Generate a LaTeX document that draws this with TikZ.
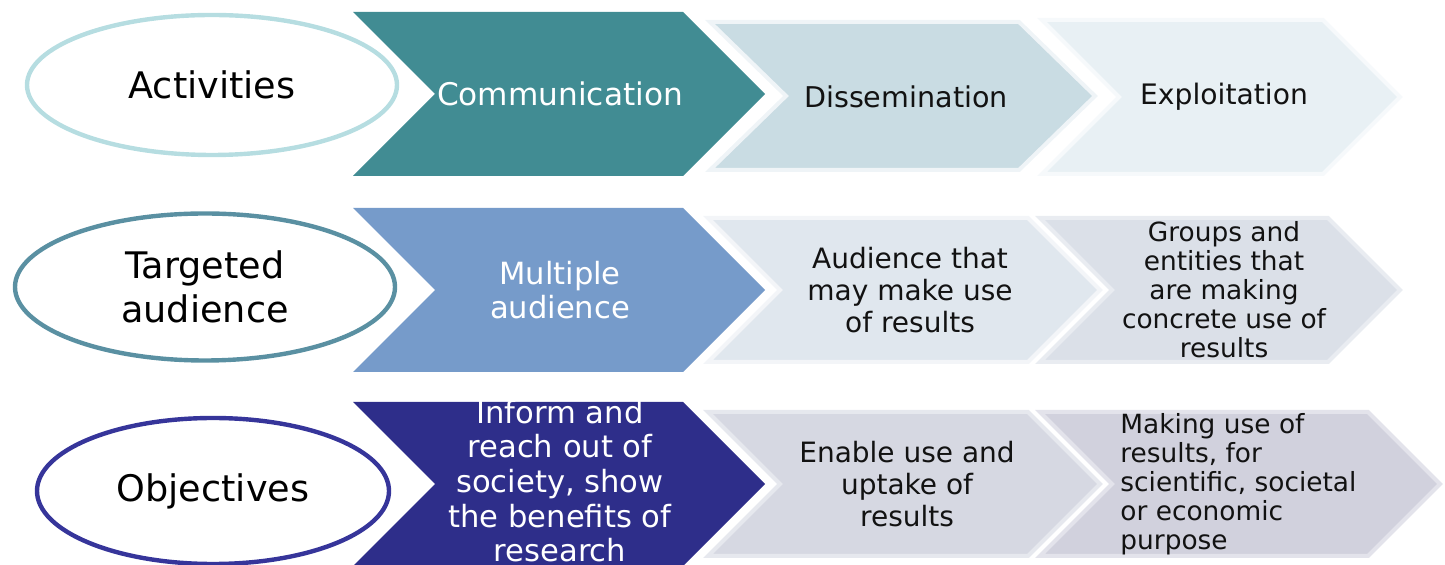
\documentclass[tikz,border=0pt]{standalone}
\usepackage{fontspec}
\setmainfont{DejaVu Sans}
\usetikzlibrary{shapes.geometric}
\definecolor{ovalA}{HTML}{B6DDE1}
\definecolor{ovalB}{HTML}{5A90A2}
\definecolor{ovalC}{HTML}{36359A}
\definecolor{chevAa}{HTML}{418C93}
\definecolor{chevAb}{HTML}{C9DCE3}
\definecolor{chevAc}{HTML}{E8F0F4}
\definecolor{chevBa}{HTML}{769BCA}
\definecolor{chevBb}{HTML}{E0E7EE}
\definecolor{chevBc}{HTML}{DBE0E8}
\definecolor{chevCa}{HTML}{2E2E8A}
\definecolor{chevCb}{HTML}{D6D8E2}
\definecolor{chevCc}{HTML}{D1D1DD}
% chevron: left x, top y, tip x, bottom y, depth, style
\newcommand{\chev}[6]{\path[#6] (#1,#2) -- ({#3-#5},#2) -- (#3,{(#2+#4)/2}) -- ({#3-#5},#4) -- (#1,#4) -- ({#1+#5},{(#2+#4)/2}) -- cycle;}
\newcommand{\fs}[2]{\fontsize{#1}{#2}\selectfont}

\begin{document}
\begin{tikzpicture}[x=0.5pt, y=-0.5pt,
    oval/.style={draw, ellipse, line width=2.2pt, inner sep=0pt, align=center, font=\fs{18.3}{22}},
    rim/.style={line width=2pt, line join=miter},
    lab/.style={align=center, inner sep=0pt, text=black!93}]
    \useasboundingbox (0,0) rectangle (1445,565);

    % First row
    \node[oval, draw=ovalA, minimum width=185pt, minimum height=70pt] (oval-1) at (212,85) {Activities};
    \chev{353}{12}{765}{176}{82}{fill=chevAa}
    \chev{710}{22}{1095}{170}{76}{rim, fill=chevAb, draw=chevAb!30!white}
    \chev{1042}{20}{1400}{174}{77}{rim, fill=chevAc, draw=chevAc!40!white}
    \node[lab, text=white, font=\fs{15.6}{17}] (chev-1-1) at (560,94) {Communication};
    \node[lab, font=\fs{14.3}{16}] (chev-1-2) at (906,97) {Dissemination};
    \node[lab, font=\fs{14.1}{16}] (chev-1-3) at (1224,97) {Exploitation};

    % Second row
    \node[oval, draw=ovalB, minimum width=190pt, minimum height=73.5pt] (oval-2) at (205,287) {Targeted\\audience};
    \chev{353}{208}{765}{372}{82}{fill=chevBa}
    \chev{708}{218}{1100}{362}{72}{rim, fill=chevBb, draw=chevBb!40!white}
    \chev{1040}{218}{1400}{362}{72}{rim, fill=chevBc, draw=chevBc!60!white}
    \node[lab, text=white, font=\fs{15.3}{17}] (chev-2-1) at (560,290) {Multiple\\audience};
    \node[lab, font=\fs{14}{16}] (chev-2-2) at (910,290) {Audience that\\may make use\\of results};
    \node[lab, font=\fs{13.2}{14.5}] (chev-2-3) at (1224,290) {Groups and\\entities that\\are making\\concrete use of\\results};

    % Third row
    \node[oval, draw=ovalC, minimum width=176pt, minimum height=73pt] (oval-3) at (213,491) {Objectives};
    \chev{353}{402}{765}{566}{82}{fill=chevCa}
    \chev{708}{412}{1100}{556}{72}{rim, fill=chevCb, draw=chevCb!60!white}
    \chev{1040}{412}{1440}{556}{72}{rim, fill=chevCc, draw=chevCc!60!white}
    \node[lab, text=white, font=\fs{15.3}{17.3}] (chev-3-1) at (560,481) {Inform and\\reach out of\\society, show\\the benefits of\\research};
    \node[lab, font=\fs{14}{16}] (chev-3-2) at (907,484) {Enable use and\\uptake of\\results};
    \node[lab, align=left, anchor=west, font=\fs{13.2}{14.5}] (chev-3-3) at (1120,484) {Making use of\\results, for\\scientific, societal\\or economic\\purpose};

\end{tikzpicture}
\end{document}
